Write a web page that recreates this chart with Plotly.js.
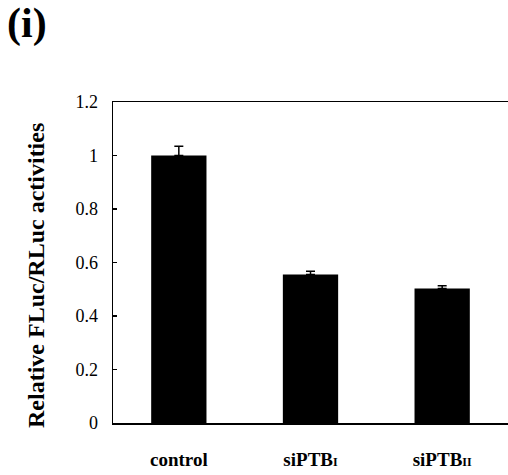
<!DOCTYPE html>
<html>
<head>
<meta charset="utf-8">
<script src="https://cdn.plot.ly/plotly-3.0.1.min.js"></script>
<style>html,body{margin:0;padding:0;background:#fff;}#chart{width:508px;height:475px;}</style>
</head>
<body>
<div id="chart"></div>
<script>
const categories = ["control", "siPTB<span style=\"font-size:12px\">I</span>", "siPTB<span style=\"font-size:12px\">II</span>"];
const values = [1.0, 0.555, 0.503];
const errorsUp = [0.035, 0.012, 0.010];
const yTickValues = [0, 0.2, 0.4, 0.6, 0.8, 1, 1.2];
const yTickLabels = ["0", "0.2", "0.4", "0.6", "0.8", "1", "1.2"];
const yTitle = "Relative FLuc/RLuc activities";
const panelLabel = "(i)";

const serif = "Liberation Serif";

const trace = {
  type: "bar",
  x: categories.map((c, i) => i),
  y: values,
  width: 0.42,
  marker: {color: "#000", line: {width: 0}},
  error_y: {
    type: "data", symmetric: false,
    array: errorsUp, arrayminus: errorsUp.map(() => 0),
    color: "#000", thickness: 1.5, width: 4.5
  },
  hoverinfo: "none"
};

const layout = {
  width: 508, height: 475,
  margin: {l: 113, r: 0, t: 102, b: 52, pad: 0},
  paper_bgcolor: "#fff", plot_bgcolor: "#fff",
  showlegend: false,
  font: {family: serif, color: "#000"},
  xaxis: {
    range: [-0.5, 2.5],
    tickvals: categories.map((c, i) => i),
    ticktext: categories,
    ticks: "",
    showline: true, linecolor: "#000", linewidth: 1.5, mirror: true,
    showgrid: false, zeroline: false,
    tickfont: {family: serif, size: 19, color: "#000", weight: "bold"},
    ticklabelstandoff: 19
  },
  yaxis: {
    range: [0, 1.2],
    tickvals: yTickValues,
    ticktext: yTickLabels,
    ticks: "inside", ticklen: 4, tickwidth: 1.2, tickcolor: "#000",
    showline: true, linecolor: "#000", linewidth: 1.5, mirror: false,
    showgrid: false, zeroline: false,
    tickfont: {family: serif, size: 18, color: "#000"},
    ticklabelstandoff: 10
  },
  annotations: [
    {text: yTitle, xref: "paper", yref: "paper", x: -0.195, y: 0.461,
     xanchor: "center", yanchor: "middle", textangle: -90, showarrow: false,
     font: {family: serif, size: 24, color: "#000", weight: "bold"}},
    {text: panelLabel, xref: "paper", yref: "paper", x: -0.218, y: 1.245,
     xanchor: "center", yanchor: "middle", showarrow: false,
     font: {family: serif, size: 42, color: "#000", weight: "bold"}}
  ]
};

Plotly.newPlot("chart", [trace], layout, {displayModeBar: false, staticPlot: true});
</script>
</body>
</html>
